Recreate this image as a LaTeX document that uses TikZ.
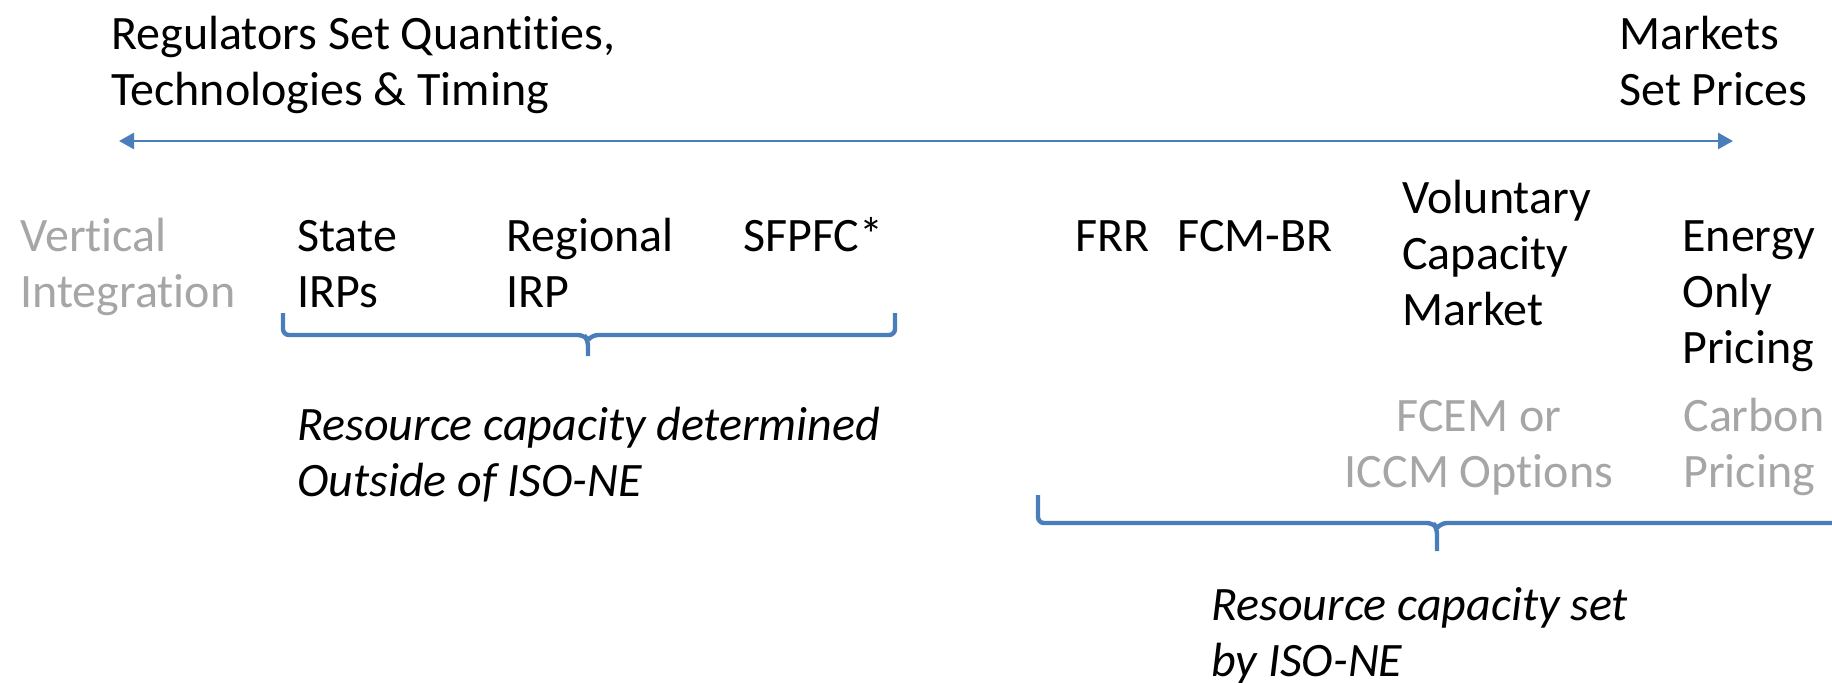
\documentclass[tikz,border=0pt]{standalone}
\usepackage{fontspec}
\setmainfont{Carlito}[Ligatures=NoCommon]
\definecolor{LineColor}{RGB}{74,126,187}
\definecolor{FadedColor}{RGB}{166,166,166}
\usepackage{tikz}
\usetikzlibrary{arrows.meta}
\tikzstyle{arrow} = [line width=1.4pt, LineColor, {Triangle[length=7.5pt,width=8pt]}-{Triangle[length=7.5pt,width=8pt]}]
\tikzstyle{brace} = [line width=2.2pt, LineColor, rounded corners=3pt]
\tikzstyle{label} = [anchor=base west, inner sep=0pt, align=left, font=\fontsize{24}{28}\selectfont]
\tikzstyle{faded} = [label, text=FadedColor]
\tikzstyle{note} = [label, font=\fontsize{24}{28}\selectfont\itshape]

\begin{document}
\begin{tikzpicture}[x=0.5pt, y=-0.5pt]
                \useasboundingbox (0,0) rectangle (1832,682);

                % Scale from regulators to markets
                \node[label] (regulators) at (111,105) {Regulators Set Quantities,\\Technologies \& Timing};
                \node[label] (markets) at (1619,105) {Markets\\Set Prices};
                \coordinate (leftend) at (119,141);
                \coordinate (rightend) at (1733,141);
                \draw[arrow] (leftend) -- (rightend);

                % Options outside of ISO-NE
                \node[faded] (vertical) at (20,307) {Vertical\\Integration};
                \node[label] (state) at (297,307) {State\\IRPs};
                \node[label] (regional) at (506,307) {Regional\\IRP};
                \node[label] (sfpfc) at (743,251) {SFPFC*};
                \draw[brace] (283,313) -- (283,335) -- (584,335) -- (588,340) -- (588,356);
                \draw[brace] (895,313) -- (895,335) -- (592,335) -- (588,340);
                \node[note] (outside) at (297,496) {Resource capacity determined\\Outside of ISO-NE};

                % Options set by ISO-NE
                \node[label] (frr) at (1075,251) {FRR};
                \node[label] (fcmbr) at (1177,251) {FCM-BR};
                \node[label] (voluntary) at (1402,325) {Voluntary\\Capacity\\Market};
                \node[label] (energy) at (1682,363) {Energy\\Only\\Pricing};
                \node[faded, align=center, anchor=base] (fcem) at (1479,487) {FCEM or\\ICCM Options};
                \node[faded] (carbon) at (1683,487) {Carbon\\Pricing};
                \draw[brace] (1038,495) -- (1038,523) -- (1433,523) -- (1437,528) -- (1437,551);
                \draw[brace] (1850,523) -- (1441,523) -- (1437,528);
                \node[note] (isone) at (1211,676) {Resource capacity set\\by ISO-NE};
            \end{tikzpicture}
\end{document}
